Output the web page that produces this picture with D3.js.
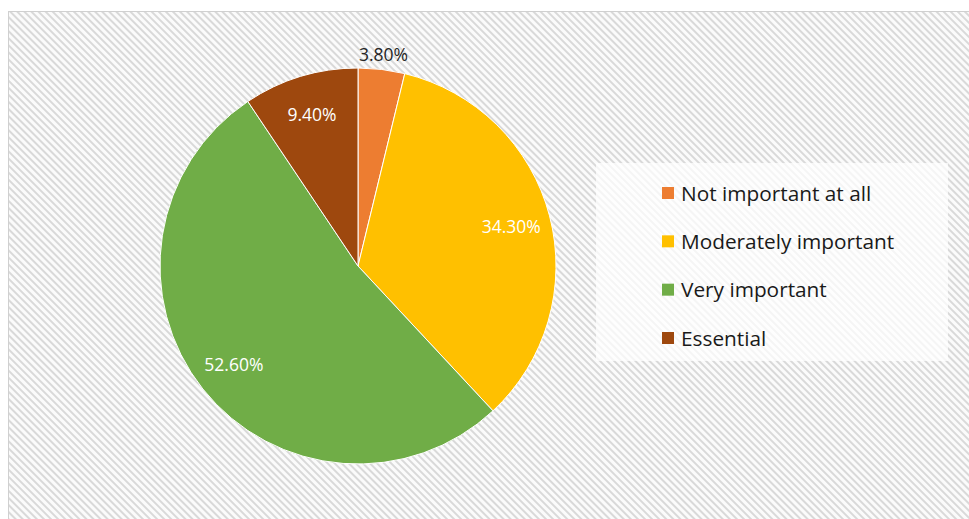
<!DOCTYPE html>
<html>
<head>
<meta charset="utf-8">
<script src="https://cdn.jsdelivr.net/npm/d3@7"></script>
<style>
  html, body { margin: 0; padding: 0; background: #ffffff; }
  svg { display: block; }
</style>
</head>
<body>
<svg id="chart" width="969" height="519"></svg>
<script>
// Survey answers and their shares (percent)
const categories = ["Not important at all", "Moderately important", "Very important", "Essential"];
const shares = [3.8, 34.3, 52.6, 9.4];
const shareLabels = ["3.80%", "34.30%", "52.60%", "9.40%"];
const sliceColors = ["#ED7D31", "#FFC000", "#70AD47", "#9E480E"];

const W = 969, H = 519;
const svg = d3.select("#chart");
const font = "'Open Sans', 'Noto Sans', sans-serif";

// Hatched chart-area background
const defs = svg.append("defs");
const pat = defs.append("pattern")
  .attr("id", "hatch")
  .attr("patternUnits", "userSpaceOnUse")
  .attr("width", 5).attr("height", 5)
  .attr("patternTransform", "rotate(45)");
pat.append("rect").attr("width", 5).attr("height", 5).attr("fill", "#fbfbfb");
pat.append("rect").attr("y", 0).attr("width", 5).attr("height", 2).attr("fill", "#d9d9d9");

const frame = { x: 8, y: 11 };
svg.append("rect")
  .attr("x", frame.x + 0.5).attr("y", frame.y + 0.5)
  .attr("width", W - frame.x + 10).attr("height", H - frame.y + 10)
  .attr("fill", "url(#hatch)")
  .attr("stroke", "#d0d0d0").attr("stroke-width", 1);

// Pie
const cx = 358, cy = 266, R = 198;
const pie = d3.pie().sort(null).value(d => d)(shares);
const arc = d3.arc().innerRadius(0).outerRadius(R);
const labelArc = d3.arc().innerRadius(R * 0.8).outerRadius(R * 0.8);
const outsideArc = d3.arc().innerRadius(R + 16).outerRadius(R + 16);

const g = svg.append("g").attr("transform", `translate(${cx},${cy})`);
g.selectAll("path.slice")
  .data(pie)
  .join("path")
  .attr("class", "slice")
  .attr("d", arc)
  .attr("fill", (d, i) => sliceColors[i])
  .attr("stroke", "#ffffff")
  .attr("stroke-width", 1);

// Percent labels: small slices get their label outside the rim
g.selectAll("text.val")
  .data(pie)
  .join("text")
  .attr("class", "val")
  .attr("transform", d => {
    const small = d.data < 5;
    const p = (small ? outsideArc : labelArc).centroid(d);
    return `translate(${p[0]},${p[1]})`;
  })
  .attr("text-anchor", "middle")
  .attr("dominant-baseline", "central")
  .attr("font-family", font)
  .attr("font-size", 17.5)
  .attr("fill", d => d.data < 5 ? "#262626" : "#ffffff")
  .text((d, i) => shareLabels[i]);

// Legend
const legend = { x: 596, y: 163, w: 352, h: 198 };
svg.append("rect")
  .attr("x", legend.x).attr("y", legend.y)
  .attr("width", legend.w).attr("height", legend.h)
  .attr("fill", "#ffffff").attr("fill-opacity", 0.72);

const rowY = d3.scalePoint().domain(categories).range([legend.y + 30, legend.y + 175]);
const items = svg.append("g").selectAll("g")
  .data(categories)
  .join("g")
  .attr("transform", d => `translate(${legend.x + 66},${rowY(d)})`);
items.append("rect")
  .attr("x", 0).attr("y", -6)
  .attr("width", 12).attr("height", 12)
  .attr("fill", (d, i) => sliceColors[i]);
items.append("text")
  .attr("x", 19).attr("y", 7.5)
  .attr("font-family", font)
  .attr("font-size", 20.8)
  .attr("fill", "#1a1a1a")
  .text(d => d);
</script>
</body>
</html>
